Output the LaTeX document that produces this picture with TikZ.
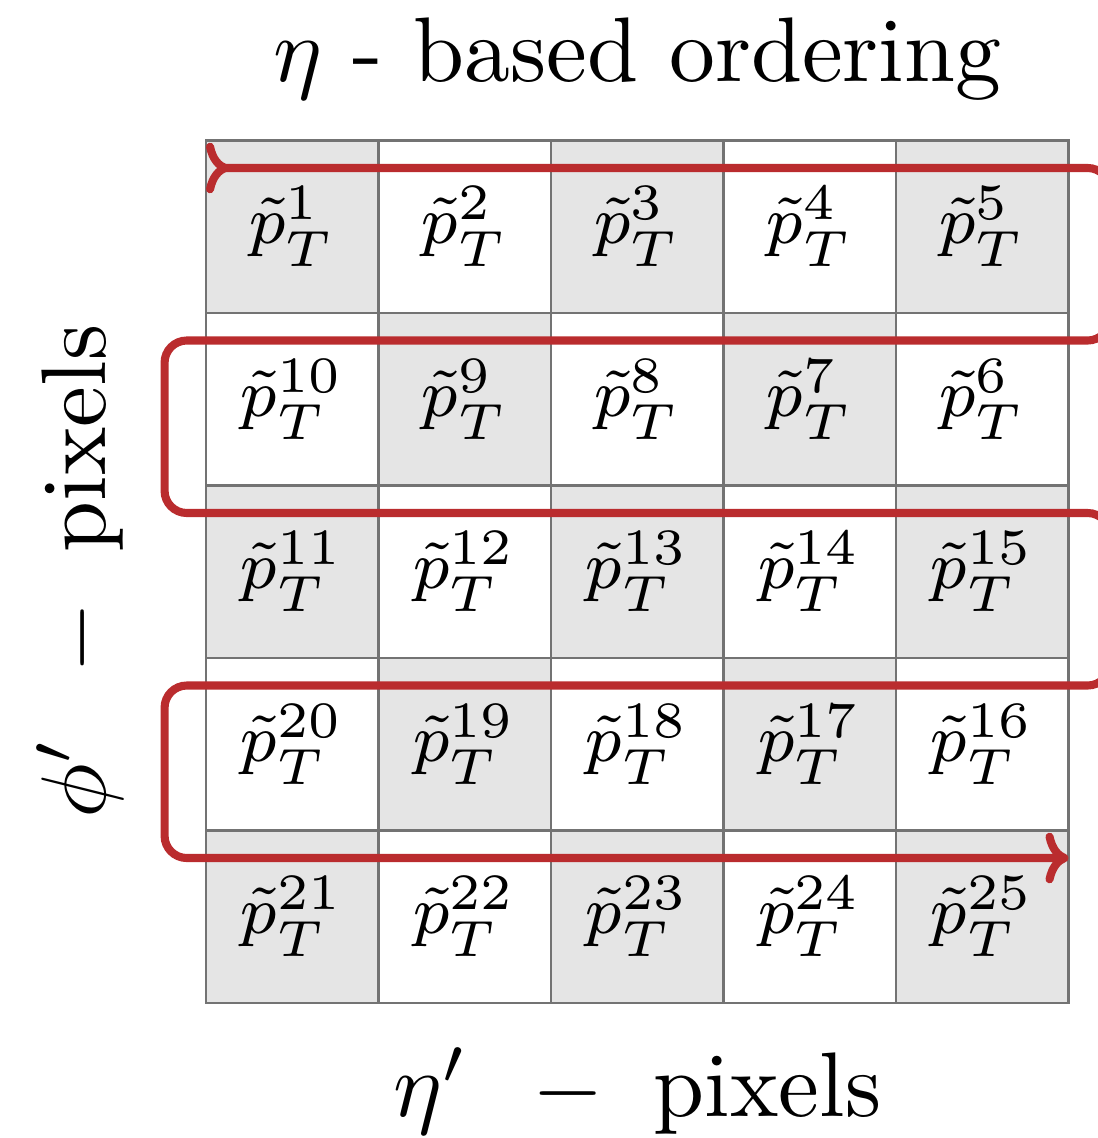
\documentclass[tikz,border=0pt]{standalone}
\usepackage{amsmath}
\usetikzlibrary{arrows.meta,positioning}
\definecolor{pathred}{RGB}{186,44,46}
\newcommand{\pT}[1]{\scalebox{2.1}{\footnotesize$\tilde{p}_T^{#1}$}}
\newcommand{\bigtext}[1]{\scalebox{2.27}{#1}}

\begin{document}
\begin{tikzpicture}[x=1.5cm, y=1.5cm,
  cell/.style={rectangle, draw=black!55, line width=0.6pt, minimum size=1.5cm,
               inner sep=0pt, outer sep=0pt},
  gcell/.style={cell, fill=black!10},
  lbl/.style={font=\normalsize, inner sep=0pt},
  snake/.style={draw=pathred, line width=2pt, rounded corners=5.5pt,
                >={Computer Modern Rightarrow[length=2mm, width=4.4mm]}, >->},
  node distance=0pt
]
  \useasboundingbox (-1.194,-0.783) rectangle (5.171,5.814);
  \clip (-1.194,-0.783) rectangle (5.171,5.814);

  % Row 1
  \node[gcell] (p1) at (0.5,4.5) {\pT{1}};
  \node[cell,  right=of p1] (p2) {\pT{2}};
  \node[gcell, right=of p2] (p3) {\pT{3}};
  \node[cell,  right=of p3] (p4) {\pT{4}};
  \node[gcell, right=of p4] (p5) {\pT{5}};

  % Row 2
  \node[cell,  below=of p1]  (p10) {\pT{10}};
  \node[gcell, right=of p10] (p9)  {\pT{9}};
  \node[cell,  right=of p9]  (p8)  {\pT{8}};
  \node[gcell, right=of p8]  (p7)  {\pT{7}};
  \node[cell,  right=of p7]  (p6)  {\pT{6}};

  % Row 3
  \node[gcell, below=of p10] (p11) {\pT{11}};
  \node[cell,  right=of p11] (p12) {\pT{12}};
  \node[gcell, right=of p12] (p13) {\pT{13}};
  \node[cell,  right=of p13] (p14) {\pT{14}};
  \node[gcell, right=of p14] (p15) {\pT{15}};

  % Row 4
  \node[cell,  below=of p11] (p20) {\pT{20}};
  \node[gcell, right=of p20] (p19) {\pT{19}};
  \node[cell,  right=of p19] (p18) {\pT{18}};
  \node[gcell, right=of p18] (p17) {\pT{17}};
  \node[cell,  right=of p17] (p16) {\pT{16}};

  % Row 5
  \node[gcell, below=of p20] (p21) {\pT{21}};
  \node[cell,  right=of p21] (p22) {\pT{22}};
  \node[gcell, right=of p22] (p23) {\pT{23}};
  \node[cell,  right=of p23] (p24) {\pT{24}};
  \node[gcell, right=of p24] (p25) {\pT{25}};

  % axis labels and title
  \node[lbl, anchor=base] (title) at (2.5,5.34) {\bigtext{$\eta$ - based ordering}};
  \node[lbl, anchor=base] (xlab) at (2.5,-0.66)
    {\bigtext{$\eta'$\hspace{0.7em}$-$\hspace{0.55em}pixels}};
  \node[lbl, anchor=base, rotate=90] (ylab) at (-0.58,2.5)
    {\bigtext{$\phi'$\hspace{0.7em}$-$\hspace{0.55em}pixels}};

  % eta-based scan path
  \draw[snake] ([yshift=-0.24cm]p1.north west) -- ++(5.24,0) -- ++(0,-1)
    -- ++(-5.48,0) -- ++(0,-1) -- ++(5.48,0) -- ++(0,-1)
    -- ++(-5.48,0) -- ++(0,-1) -- ([yshift=-0.24cm]p25.north east);
\end{tikzpicture}
\end{document}
